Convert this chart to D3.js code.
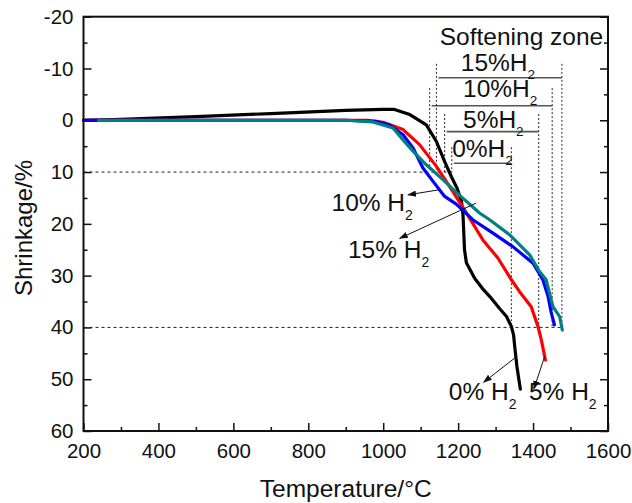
<!DOCTYPE html>
<html>
<head>
<meta charset="utf-8">
<script src="https://cdn.jsdelivr.net/npm/d3@7"></script>
<style>
  body { margin: 0; background: #fff; }
  svg { display: block; font-family: "Liberation Sans", Arial, Helvetica, sans-serif; }
</style>
</head>
<body>
<svg id="chart" width="632" height="503"></svg>
<script>
// Dilatometer shrinkage curves under different H2 contents
const t0  = [200, 300, 500, 700, 900, 1000, 1030, 1071, 1115, 1142, 1164, 1182, 1197, 1209, 1213, 1217, 1222, 1244, 1265, 1284, 1310, 1329, 1342, 1348, 1351, 1357, 1362, 1366];
const s0  = [0, -0.2, -0.7, -1.3, -1.9, -2.1, -2.1, -1.1, 0.9, 4.1, 8.0, 10.9, 13.1, 15.7, 18.3, 25.0, 27.5, 30.5, 32.5, 34.0, 36.3, 37.9, 39.8, 41.5, 43.7, 47.6, 50.0, 51.9];

const t5  = [200, 900, 960, 1000, 1053, 1097, 1142, 1186, 1222, 1266, 1306, 1342, 1364, 1395, 1413, 1422, 1433];
const s5  = [0, 0, 0, 0.4, 1.8, 4.7, 8.9, 13.8, 17.9, 23.1, 26.6, 30.8, 33.1, 36.0, 39.8, 42.4, 46.3];

const t10 = [200, 900, 980, 1017, 1053, 1080, 1106, 1133, 1164, 1195, 1239, 1293, 1346, 1400, 1426, 1440, 1449, 1457];
const s10 = [0, 0, 0.2, 0.9, 2.8, 5.4, 9.2, 11.8, 14.7, 16.2, 19.2, 21.8, 24.4, 27.6, 30.8, 34.0, 37.3, 39.5];

const t15 = [240, 900, 970, 1026, 1053, 1080, 1115, 1160, 1204, 1231, 1257, 1284, 1337, 1391, 1417, 1435, 1453, 1471, 1478];
const s15 = [0, 0, 0.3, 1.5, 3.8, 6.0, 8.6, 11.5, 14.5, 16.2, 17.9, 19.2, 22.1, 26.0, 29.2, 30.8, 36.0, 37.9, 40.5];

// Softening zone: temperature at 10 % and at 40 % shrinkage
const zoneLabels = ["0%H", "5%H", "10%H", "15%H"];
const zoneStart  = [1183, 1164, 1124, 1142];
const zoneEnd    = [1342, 1415, 1451, 1477];
const refLevels  = [10, 40];

const xTicks = [200, 400, 600, 800, 1000, 1200, 1400, 1600];
const yTicks = [-20, -10, 0, 10, 20, 30, 40, 50, 60];

// ---- layout -------------------------------------------------------------
const svg = d3.select("#chart");
const x = d3.scaleLinear().domain([200, 1600]).range([83.5, 608]);
const y = d3.scaleLinear().domain([-20, 60]).range([16.7, 431]);

const seriesList = [
  { t: t0,  s: s0,  color: "#000000" },
  { t: t5,  s: s5,  color: "#ff0000" },
  { t: t10, s: s10, color: "#0000ff" },
  { t: t15, s: s15, color: "#008080" }
];

// zone bar height, vertical-guide top (shrinkage units) and label anchor
const zoneLayout = [
  { bar: 8.3,  top: 5.2,   lx: 1184, ly: 7.1 },
  { bar: 2.2,  top: -1.2,  lx: 1213, ly: 1.55 },
  { bar: -2.8, top: -6.2,  lx: 1213, ly: -4.4 },
  { bar: -8.2, top: -10.9, lx: 1207, ly: -9.6 }
];

// ---- axes ---------------------------------------------------------------
function styleAxis(g) {
  g.select(".domain").remove();
  g.selectAll(".tick line").attr("stroke", "#111").attr("stroke-width", 1.5);
  g.selectAll(".tick text").attr("fill", "#111").style("font-size", "20.5px")
    .style("font-family", '"Liberation Sans", Arial, sans-serif');
}
const minorX = d3.range(300, 1600, 200);
const minorY = d3.range(-15, 60, 10);

svg.append("g").attr("transform", `translate(0,${y.range()[1]})`)
  .call(d3.axisBottom(x).tickValues(xTicks).tickSize(-8).tickPadding(12).tickFormat(d => String(d)))
  .call(styleAxis);
svg.append("g").attr("transform", `translate(0,${y.range()[1]})`)
  .call(d3.axisBottom(x).tickValues(minorX).tickSize(-4).tickFormat(""))
  .call(styleAxis);

svg.append("g").attr("transform", `translate(${x.range()[0]},0)`)
  .call(d3.axisLeft(y).tickValues(yTicks).tickSize(-8).tickPadding(10).tickFormat(d => String(d)))
  .call(styleAxis);
svg.append("g").attr("transform", `translate(${x.range()[0]},0)`)
  .call(d3.axisLeft(y).tickValues(minorY).tickSize(-4).tickFormat(""))
  .call(styleAxis);

svg.append("g").attr("transform", `translate(${x.range()[1]},0)`)
  .call(d3.axisRight(y).tickValues(yTicks).tickSize(-8).tickFormat(""))
  .call(styleAxis);
svg.append("g").attr("transform", `translate(${x.range()[1]},0)`)
  .call(d3.axisRight(y).tickValues(minorY).tickSize(-4).tickFormat(""))
  .call(styleAxis);

// ---- reference lines & softening-zone guides ---------------------------
const guides = svg.append("g").attr("fill", "none");
const maxStart = d3.max(zoneStart), maxEnd = d3.max(zoneEnd);
refLevels.forEach((lv, i) => {
  guides.append("line")
    .attr("x1", x(200)).attr("x2", x(i === 0 ? maxStart : maxEnd))
    .attr("y1", y(lv)).attr("y2", y(lv))
    .attr("stroke", "#222").attr("stroke-width", 1).attr("stroke-dasharray", "3,3");
});
zoneLabels.forEach((lab, i) => {
  const L = zoneLayout[i];
  guides.append("line")
    .attr("x1", x(zoneStart[i])).attr("x2", x(zoneStart[i]))
    .attr("y1", y(L.top)).attr("y2", y(refLevels[0]))
    .attr("stroke", "#222").attr("stroke-width", 1).attr("stroke-dasharray", "2,2");
  guides.append("line")
    .attr("x1", x(zoneEnd[i])).attr("x2", x(zoneEnd[i]))
    .attr("y1", y(L.top)).attr("y2", y(refLevels[1]))
    .attr("stroke", "#222").attr("stroke-width", 1).attr("stroke-dasharray", "2,2");
  guides.append("line")
    .attr("x1", x(zoneStart[i]) + 2).attr("x2", x(zoneEnd[i]))
    .attr("y1", y(L.bar)).attr("y2", y(L.bar))
    .attr("stroke", "#555").attr("stroke-width", 1.6);
});

// ---- curves -------------------------------------------------------------
const lineFree = d3.line().x(d => x(d[0])).y(d => y(d[1])).curve(d3.curveLinear);
seriesList.forEach(sr => {
  const pts = sr.t.map((t, i) => [t, sr.s[i]]);
  svg.append("path").datum(pts)
    .attr("d", lineFree)
    .attr("fill", "none")
    .attr("stroke", sr.color)
    .attr("stroke-width", 3.2)
    .attr("stroke-linejoin", "round")
    .attr("stroke-linecap", "round");
});

// ---- frame --------------------------------------------------------------
svg.append("rect")
  .attr("x", x.range()[0]).attr("y", y.range()[0])
  .attr("width", x.range()[1] - x.range()[0])
  .attr("height", y.range()[1] - y.range()[0])
  .attr("fill", "none").attr("stroke", "#111").attr("stroke-width", 2);

// ---- annotation text ----------------------------------------------------
function h2Label(g, tx, ty, main, size, subSize, subDy) {
  const t = g.append("text").attr("x", x(tx)).attr("y", y(ty))
    .attr("fill", "#111").style("font-size", size + "px");
  t.append("tspan").text(main);
  t.append("tspan").attr("dy", subDy).style("font-size", subSize + "px").text("2");
  return t;
}
const ann = svg.append("g");
ann.append("text").attr("x", x(1151)).attr("y", y(-14.6))
  .attr("fill", "#111").style("font-size", "24.5px").text("Softening zone");
zoneLabels.forEach((lab, i) => {
  const L = zoneLayout[i];
  h2Label(ann, L.lx, L.ly, lab, 24.5, 13.5, 8);
});

// curve labels
const curveLabels = ["10% H", "15% H", "0% H", "5% H"];
const curveLabelT = [862, 906, 1175, 1389];
const curveLabelS = [17.6, 26.6, 54.1, 54.1];
curveLabels.forEach((lab, i) => h2Label(ann, curveLabelT[i], curveLabelS[i], lab, 24.5, 14, 9));

// arrows from curves to their labels
svg.append("defs").append("marker")
  .attr("id", "head").attr("viewBox", "0 0 10 10")
  .attr("refX", 9).attr("refY", 5)
  .attr("markerWidth", 9).attr("markerHeight", 9)
  .attr("markerUnits", "userSpaceOnUse")
  .attr("orient", "auto")
  .append("path").attr("d", "M0,1.5 L10,5 L0,8.5 Z").attr("fill", "#111");

const arrowFrom = [[1151, 13.4], [1248, 16.0], [1353, 45.8], [1431, 45.6]];
const arrowTo   = [[1066, 14.4], [1044, 22.8], [1268, 50.6], [1402, 51.9]];
arrowFrom.forEach((a, i) => {
  ann.append("line")
    .attr("x1", x(a[0])).attr("y1", y(a[1]))
    .attr("x2", x(arrowTo[i][0])).attr("y2", y(arrowTo[i][1]))
    .attr("stroke", "#111").attr("stroke-width", 1)
    .attr("marker-end", "url(#head)");
});

// ---- axis titles --------------------------------------------------------
svg.append("text")
  .attr("x", (x.range()[0] + x.range()[1]) / 2).attr("y", 497)
  .attr("text-anchor", "middle").attr("fill", "#111")
  .style("font-size", "24.5px").text("Temperature/°C");
svg.append("text")
  .attr("transform", "translate(31.5,228) rotate(-90)")
  .attr("text-anchor", "middle").attr("fill", "#111")
  .style("font-size", "24px").text("Shrinkage/%");
</script>
</body>
</html>
